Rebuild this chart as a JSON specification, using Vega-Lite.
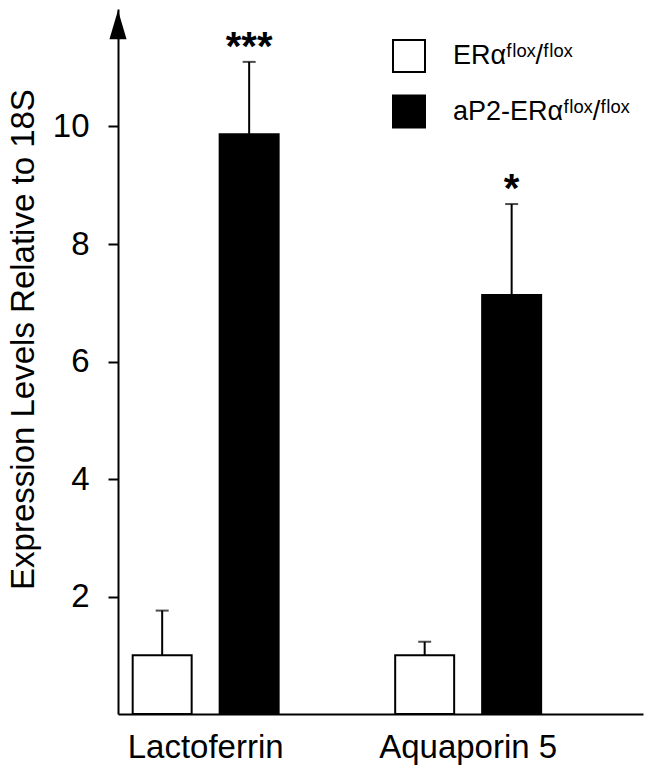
{
  "$schema": "https://vega.github.io/schema/vega-lite/v6.json",
  "autosize": {"type": "none"},
  "width": 525,
  "height": 705,
  "padding": {"left": 118, "top": 9, "right": 8, "bottom": 55},
  "background": "white",
  "data": {
    "values": [
      {"gene": "Lactoferrin", "group": "ERαᶠˡᵒˣ/ᶠˡᵒˣ", "value": 1.0, "upper": 1.76, "sig": ""},
      {"gene": "Lactoferrin", "group": "aP2-ERαᶠˡᵒˣ/ᶠˡᵒˣ", "value": 9.87, "upper": 11.1, "sig": "***"},
      {"gene": "Aquaporin 5", "group": "ERαᶠˡᵒˣ/ᶠˡᵒˣ", "value": 1.0, "upper": 1.23, "sig": ""},
      {"gene": "Aquaporin 5", "group": "aP2-ERαᶠˡᵒˣ/ᶠˡᵒˣ", "value": 7.13, "upper": 8.68, "sig": "*"}
    ]
  },
  "encoding": {
    "x": {
      "field": "gene", "type": "nominal", "sort": ["Lactoferrin", "Aquaporin 5"],
      "scale": {"paddingInner": 0.444, "paddingOuter": 0.222, "align": 0.126},
      "axis": {"title": null, "labelAngle": 0, "labelFontSize": 33, "ticks": false, "tickSize": 0, "labelBaseline": "alphabetic", "labelPadding": 43}
    },
    "xOffset": {
      "field": "group", "type": "nominal", "sort": ["ERαᶠˡᵒˣ/ᶠˡᵒˣ", "aP2-ERαᶠˡᵒˣ/ᶠˡᵒˣ"],
      "scale": {"paddingInner": 0.322, "paddingOuter": 0}
    }
  },
  "layer": [
    {
      "mark": {"type": "rule", "strokeWidth": 2, "color": "black"},
      "encoding": {
        "y": {"field": "value", "type": "quantitative"},
        "y2": {"field": "upper"}
      }
    },
    {
      "mark": {"type": "tick", "thickness": 2, "size": 13, "color": "black"},
      "encoding": {
        "y": {"field": "upper", "type": "quantitative"}
      }
    },
    {
      "mark": {"type": "bar", "stroke": "black", "strokeWidth": 2},
      "encoding": {
        "y": {
          "field": "value", "type": "quantitative",
          "scale": {"domain": [0, 12], "nice": false, "zero": true},
          "axis": {
            "title": "Expression Levels Relative to 18S",
            "values": [2, 4, 6, 8, 10],
            "format": "d",
            "grid": false,
            "tickSize": 10,
            "labelFontSize": 33,
            "labelPadding": 19,
            "titleFontSize": 33,
            "titleFontWeight": "normal",
            "titleAngle": -90,
            "titleAlign": "center",
            "titleBaseline": "alphabetic",
            "titleX": -85,
            "titleY": 330
          }
        },
        "fill": {
          "field": "group", "type": "nominal",
          "sort": ["ERαᶠˡᵒˣ/ᶠˡᵒˣ", "aP2-ERαᶠˡᵒˣ/ᶠˡᵒˣ"],
          "scale": {"domain": ["ERαᶠˡᵒˣ/ᶠˡᵒˣ", "aP2-ERαᶠˡᵒˣ/ᶠˡᵒˣ"], "range": ["white", "black"]},
          "legend": {
            "title": null,
            "orient": "none",
            "legendX": 274,
            "legendY": 30,
            "symbolType": "square",
            "symbolSize": 1024,
            "symbolStrokeColor": "black",
            "symbolStrokeWidth": 2,
            "labelFontSize": 27,
            "labelOffset": 27,
            "labelLimit": 0,
            "rowPadding": 15.5,
            "padding": 0
          }
        }
      }
    },
    {
      "mark": {"type": "text", "fontSize": 40, "fontWeight": "bold", "baseline": "alphabetic", "dy": -2, "color": "black"},
      "encoding": {
        "y": {"field": "upper", "type": "quantitative"},
        "text": {"field": "sig"}
      }
    },
    {
      "data": {"values": [{"tip": 11.73}]},
      "mark": {"type": "point", "shape": "M0,-1L-0.59,1L0.59,1Z", "filled": true, "size": 841, "color": "black", "opacity": 1},
      "encoding": {
        "x": {"value": 0},
        "xOffset": null,
        "y": {"field": "tip", "type": "quantitative"}
      }
    }
  ],
  "config": {
    "view": {"stroke": null},
    "font": "Liberation Sans",
    "axis": {
      "domainColor": "black", "domainWidth": 2, "tickColor": "black", "tickWidth": 2,
      "labelColor": "black", "titleColor": "black", "labelFont": "Liberation Sans", "titleFont": "Liberation Sans"
    },
    "legend": {"labelFont": "Liberation Sans", "labelColor": "black"},
    "text": {"font": "Liberation Sans"}
  }
}
